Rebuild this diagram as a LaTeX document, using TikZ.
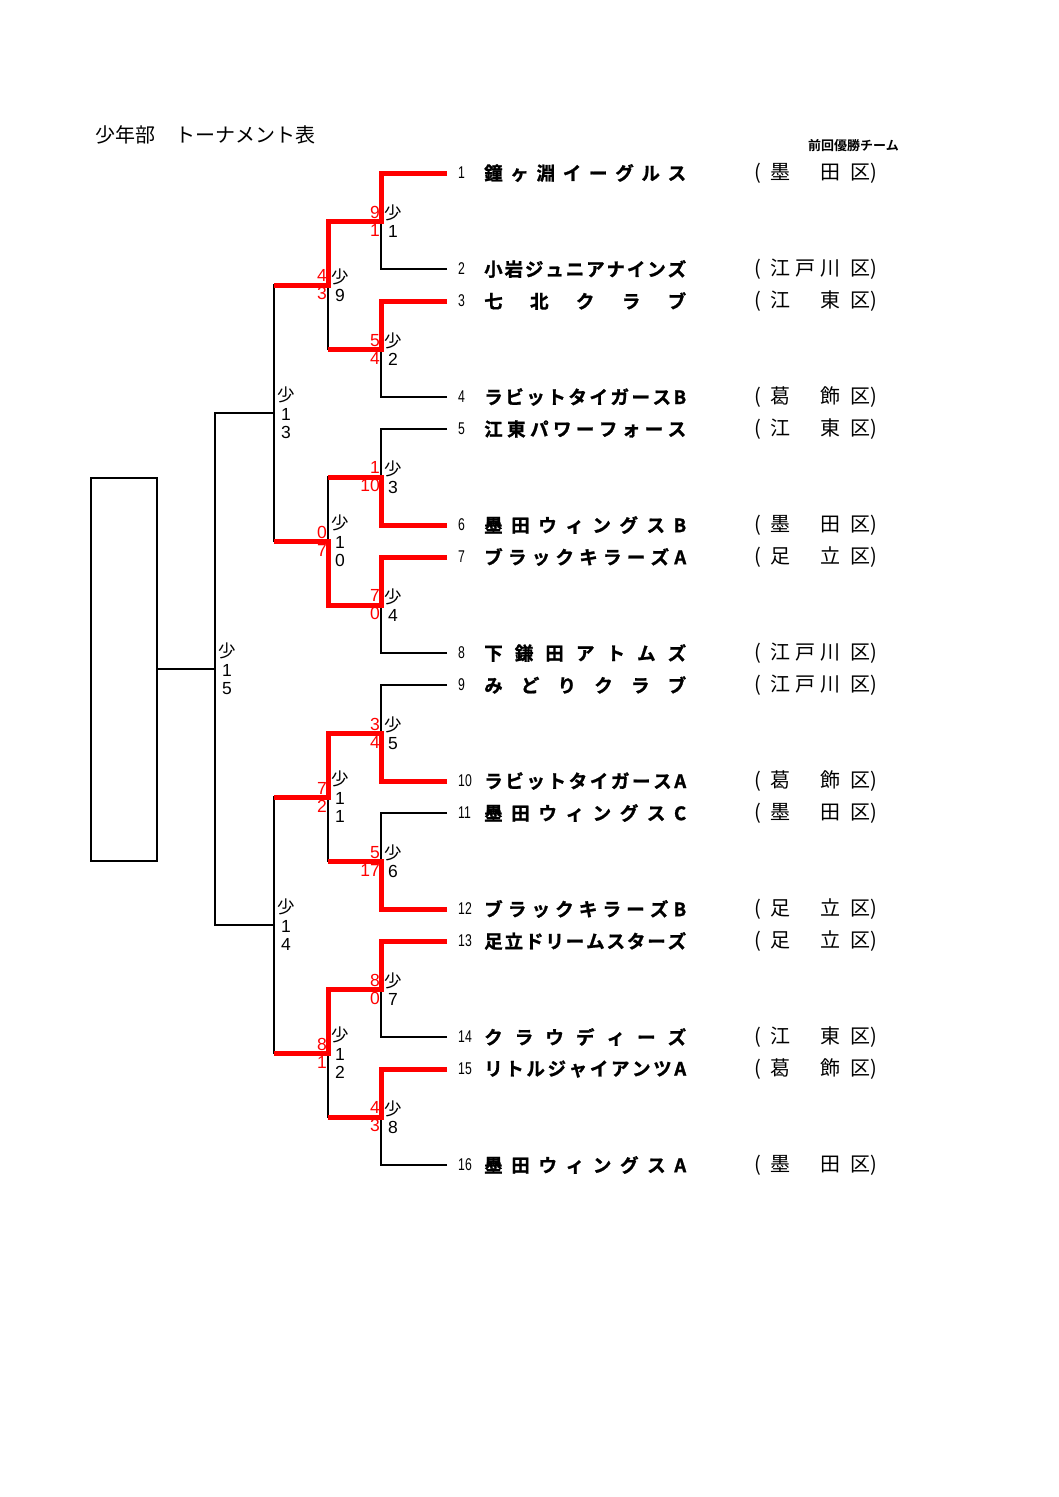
\documentclass[tikz,border=0pt]{standalone}
\usepackage{fontspec}
\setmainfont{Liberation Sans}
\newfontfamily\cjk{Noto Sans CJK JP}[BoldFont={Noto Sans CJK JP Bold}]
\newfontfamily\cjkh{Noto Sans CJK JP Bold}[FakeBold=1.2]
\newfontfamily\numf{Liberation Sans}[FakeStretch=0.72]
\def\spreadA#1{#1\spreadB}
\def\spreadB#1{\ifx\relax#1\else\hfill#1\expandafter\spreadB\fi}
\newcommand\spread[2]{\makebox[#1][s]{\expandafter\spreadA#2\relax}}
\newcommand\sho{{\cjk 少}}
\begin{document}
\begin{tikzpicture}[x=1pt,y=-1pt,
  bline/.style={line width=1.9pt,black},
  win/.style={line width=5pt,red},
  mlabel/.style={anchor=west,inner sep=0pt,align=center,font=\fontsize{17.5}{18.5}\selectfont},
  score/.style={anchor=east,inner sep=0pt,align=right,text=red,font=\fontsize{17.5}{18}\selectfont},
  tnum/.style={anchor=west,inner sep=0pt,font=\numf\fontsize{17}{17}\selectfont},
  tname/.style={anchor=west,inner sep=0pt,font=\cjkh\fontsize{18.5}{18.5}\selectfont},
  tdist/.style={anchor=west,inner sep=0pt,font=\cjk\fontsize{20}{20}\selectfont},
]
\useasboundingbox (0,0) rectangle (1058,1497);

% title
\node[anchor=west,inner sep=0pt,font=\cjk\fontsize{20}{20}\selectfont] (title) at (95,135) {少年部　トーナメント表};
\node[anchor=west,inner sep=0pt,font=\cjk\bfseries\fontsize{13}{13}\selectfont] (prev) at (808,146) {前回優勝チーム};

% team line ends
\foreach \n/\y in {1/173,2/269,3/301,4/397,5/429,6/525,7/557,8/653,9/685,10/781,11/813,12/909,13/941,14/1037,15/1069,16/1165}
  {\coordinate (t\n) at (447,\y);}

% match points
\coordinate (m1) at (381,221);
\coordinate (m2) at (381,349);
\coordinate (m3) at (381,477);
\coordinate (m4) at (381,605);
\coordinate (m5) at (381,733);
\coordinate (m6) at (381,861);
\coordinate (m7) at (381,989);
\coordinate (m8) at (381,1117);
\coordinate (m9) at (328,285);
\coordinate (m10) at (328,541);
\coordinate (m11) at (328,797);
\coordinate (m12) at (328,1053);
\coordinate (m13) at (274,413);
\coordinate (m14) at (274,925);
\coordinate (m15) at (215,669);

% champion box
\node[draw,line width=1.9pt,minimum width=66pt,minimum height=383pt,inner sep=0pt] (champ) at (124,669.5) {};

% black bracket
\foreach \a/\b in {t1/m1,t2/m1,t3/m2,t4/m2,t5/m3,t6/m3,t7/m4,t8/m4,
                   t9/m5,t10/m5,t11/m6,t12/m6,t13/m7,t14/m7,t15/m8,t16/m8,
                   m1/m9,m2/m9,m3/m10,m4/m10,m5/m11,m6/m11,m7/m12,m8/m12,
                   m9/m13,m10/m13,m11/m14,m12/m14,m13/m15,m14/m15}
  {\draw[bline] (\a) -| (\b);}
\draw[bline] (m15) -- (m15 -| champ.east);

% winners in red
\draw[win] (t1) -| (m1) -| (m9) -- (m9 -| m13);
\draw[win] (t3) -| (m2) -- (m2 -| m9);
\draw[win] (t6) -| (m3) -- (m3 -| m10);
\draw[win] (t7) -| (m4) -| (m10) -- (m10 -| m13);
\draw[win] (t10) -| (m5) -| (m11) -- (m11 -| m14);
\draw[win] (t12) -| (m6) -- (m6 -| m11);
\draw[win] (t13) -| (m7) -| (m12) -- (m12 -| m14);
\draw[win] (t15) -| (m8) -- (m8 -| m12);

% match labels
\foreach \m/\t in {m1/1,m2/2,m3/3,m4/4,m5/5,m6/6,m7/7,m8/8,m9/9,
                   m10/1\\0,m11/1\\1,m12/1\\2,m13/1\\3,m14/1\\4,m15/1\\5}
  {\node[mlabel] (l\m) at ([xshift=3pt]\m) {\sho\\\t};}

% scores
\foreach \m/\a/\b in {m1/9/1,m2/5/4,m3/1/10,m4/7/0,m5/3/4,m6/5/17,m7/8/0,m8/4/3,
                      m9/4/3,m10/0/7,m11/7/2,m12/8/1}
  {\node[score] (s\m) at ([xshift=-1pt]\m) {\a\\\b};}

% teams
\foreach \n/\y/\nm/\ds in {
  1/173/鐘ヶ淵イーグルス/墨田,
  2/269/小岩ジュニアナインズ/江戸川,
  3/301/七北クラブ/江東,
  4/397/ラビットタイガースB/葛飾,
  5/429/江東パワーフォース/江東,
  6/525/墨田ウィングスB/墨田,
  7/557/ブラックキラーズA/足立,
  8/653/下鎌田アトムズ/江戸川,
  9/685/みどりクラブ/江戸川,
  10/781/ラビットタイガースA/葛飾,
  11/813/墨田ウィングスC/墨田,
  12/909/ブラックキラーズB/足立,
  13/941/足立ドリームスターズ/足立,
  14/1037/クラウディーズ/江東,
  15/1069/リトルジャイアンツA/葛飾,
  16/1165/墨田ウィングスA/墨田}
{
  \node[tnum] (n\n) at (458,\y) {\n};
  \node[tname] (name\n) at (484,\y) {\spread{202pt}{\nm}};
  \node[tdist] (d\n) at (754,\y) {\makebox[16pt][l]{(}\spread{70pt}{\ds}\hspace{10pt}区)};
}
\end{tikzpicture}
\end{document}
